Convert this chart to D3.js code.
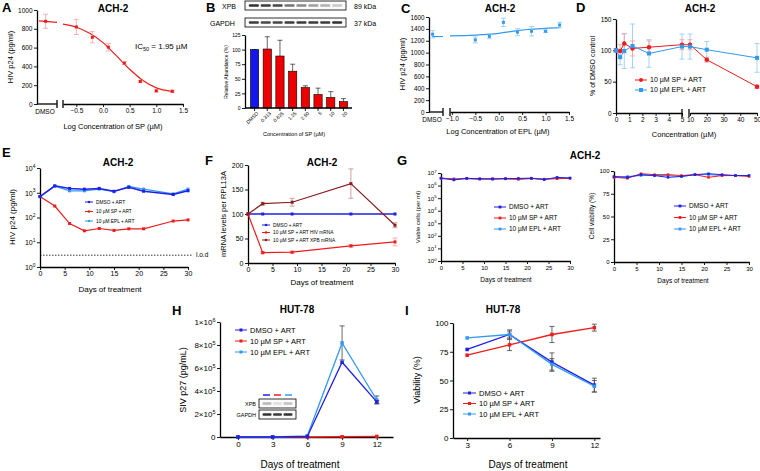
<!DOCTYPE html>
<html>
<head>
<meta charset="utf-8">
<script src="https://cdn.jsdelivr.net/npm/d3@7"></script>
<style>
  body { margin: 0; background: #fff; }
</style>
</head>
<body>
<div id="fig"></div>
<script>
// ---- data ----
// A: SP dose response (p24)
const aLogConc = [-0.5, -0.2, 0.1, 0.4, 0.7, 1.0, 1.3];
const aP24 = [820, 710, 605, 435, 240, 140, 135];
const aErr = [80, 60, 40, 15, 10, 12, 12];
const aDmso = [880];
const aDmsoErr = [75];
const aFitX = [-0.75, -0.5, -0.25, 0, 0.25, 0.5, 0.75, 1.0, 1.3];
const aFitY = [849, 816, 752, 653, 514, 370, 250, 172, 134];
const aDmsoFit = [884, 868];

// B: XPB western blot quantification
const bConc = ["DMSO", "0.313", "0.625", "1.25", "2.50", "5", "10", "20"];
const bAbund = [100, 101, 89, 63, 35, 23, 18, 11];
const bErr = [0, 21, 27, 12, 3, 11, 10, 5];
const bXpbBand = [0.9, 0.85, 0.8, 0.6, 0.5, 0.4, 0.32, 0.22];
const bGapdhBand = [0.85, 0.8, 0.8, 0.85, 0.85, 0.85, 0.85, 0.9];

// C: EPL dose response (p24)
const cLogConc = [-0.5, -0.2, 0.1, 0.4, 0.7, 1.0, 1.3];
const cP24 = [1215, 1275, 1510, 1345, 1360, 1360, 1465];
const cErr = [50, 40, 70, 60, 80, 20, 45];
const cDmso = [1310];
const cDmsoErr = [60];
const cFitX = [-1.04, -0.5, 0, 0.4, 0.7, 1.0, 1.3];
const cFitY = [1282, 1295, 1325, 1370, 1395, 1410, 1420];
const cDmsoFit = [1268, 1272];

// D: % of DMSO control
const dConc = [0, 0.313, 0.625, 1.25, 2.5, 5, 10, 20, 50];
const dSp = [100, 99, 111, 103, 105, 109, 109, 85, 42];
const dSpErr = [3, 10, 15, 12, 10, 8, 8, 4, 3];
const dEpl = [100, 89, 99, 107, 95, 106, 106, 101, 88];
const dEplErr = [3, 12, 28, 35, 22, 20, 20, 13, 23];

// E: p24 over time
const eDays = [0, 3, 6, 9, 12, 15, 18, 21, 27, 30];
const eDmso = [700, 1900, 1500, 1400, 1500, 1150, 1650, 1150, 850, 1200];
const eSp = [700, 290, 57, 29, 36, 30, 35, 35, 72, 80];
const eEpl = [700, 1850, 1200, 1200, 1400, 1100, 1800, 1400, 900, 1400];
const eLod = 3;

// F: mRNA levels
const fDays = [0, 3, 9, 21, 30];
const fDmso = [100, 100, 100, 100, 100];
const fHiv = [100, 21, 22, 35, 43];
const fHivErr = [0, 2, 2, 3, 8];
const fXpb = [100, 121, 124, 162, 77];
const fXpbErr = [0, 3, 8, 30, 5];

// G: viable cells and viability
const gDays = [0, 3, 6, 9, 12, 15, 18, 21, 24, 27, 30];
const gCellsDmso = [3.8e6, 2.8e6, 3.8e6, 3.5e6, 3.2e6, 3.6e6, 3.7e6, 3.9e6, 3.0e6, 4.5e6, 4.0e6];
const gCellsSp = [4.0e6, 3.3e6, 3.6e6, 3.2e6, 3.6e6, 3.4e6, 3.1e6, 3.6e6, 3.2e6, 3.5e6, 3.8e6];
const gCellsEpl = [3.6e6, 3.4e6, 3.5e6, 3.4e6, 3.4e6, 3.5e6, 3.5e6, 3.7e6, 3.3e6, 4.0e6, 3.9e6];
const gViaDmso = [94, 93, 96, 95, 93, 94, 96, 97, 96, 95, 95];
const gViaSp = [93, 92, 97, 96, 96, 95, 96, 93, 95, 95, 94];
const gViaEpl = [93, 94, 95, 95, 95, 94, 96, 96, 95, 95, 95];

// H: HUT-78 SIV p27
const hDays = [0, 3, 6, 9, 12];
const hDmso = [0, 0, 5000, 650000, 305000];
const hDmsoErr = [0, 0, 0, 0, 12000];
const hSp = [0, 0, 0, 2000, 5000];
const hEpl = [0, 0, 10000, 818000, 322000];
const hEplErr = [0, 0, 0, 148000, 35000];
const hXpbBand = [0.3, 0.12, 0.25];
const hGapdhBand = [0.9, 0.85, 0.9];

// I: HUT-78 viability
const iDays = [3, 6, 9, 12];
const iDmso = [77, 90, 66, 46];
const iDmsoErr = [0, 4, 8, 6];
const iSp = [72, 81, 90, 96];
const iSpErr = [0, 5, 7, 3];
const iEpl = [87, 90, 64, 45];
const iEplErr = [0, 3, 5, 5];

// ---- styling ----
const FONT = "'Liberation Sans', Arial, sans-serif";
const BLUE = "#1f1fe6";
const RED = "#ee1c1c";
const LBLUE = "#3399f0";
const DRED = "#8b1c1c";

const svg = d3.select("#fig").append("svg")
    .attr("width", 760).attr("height", 471)
    .style("font-family", FONT);

const defs = svg.append("defs");
defs.append("filter").attr("id", "blur")
    .append("feGaussianBlur").attr("stdDeviation", 0.5);

function label(x, y, s, size, o = {}) {
    const t = svg.append("text")
        .attr("x", x).attr("y", y)
        .attr("font-size", size)
        .attr("text-anchor", o.anchor || "middle")
        .attr("fill", "#000")
        .text(s);
    if (o.bold) t.attr("font-weight", "bold");
    if (o.rot) t.attr("transform", `rotate(-90,${x},${y})`);
    return t;
}

function styleAxis(g, fs) {
    g.attr("font-family", FONT).attr("font-size", fs);
    g.select(".domain").attr("stroke", "#000").attr("stroke-width", 1.3);
    g.selectAll(".tick line").attr("stroke", "#000").attr("stroke-width", 0.9);
    g.selectAll(".tick text").attr("fill", "#000");
    return g;
}

function axisLeft(scale, x, vals, fmt, fs) {
    const g = svg.append("g").attr("transform", `translate(${x},0)`)
        .call(d3.axisLeft(scale).tickValues(vals).tickFormat(fmt)
            .tickSize(3).tickSizeOuter(0).tickPadding(1.5));
    return styleAxis(g, fs);
}

function axisBottom(scale, y, vals, fmt, fs) {
    const g = svg.append("g").attr("transform", `translate(0,${y})`)
        .call(d3.axisBottom(scale).tickValues(vals).tickFormat(fmt)
            .tickSize(3).tickSizeOuter(0).tickPadding(1.5));
    return styleAxis(g, fs);
}

// powers of ten as 10 + superscript
function supTicks(g, fs) {
    g.selectAll(".tick text").each(function(d) {
        const e = Math.round(Math.log10(d));
        const t = d3.select(this).text("");
        t.append("tspan").text("10");
        t.append("tspan").attr("dy", -fs * 0.45).attr("font-size", fs * 0.7).text(e);
    });
}

function breakMarks(xs, y) {
    xs.forEach(x => svg.append("line")
        .attr("x1", x).attr("x2", x).attr("y1", y - 4).attr("y2", y + 4)
        .attr("stroke", "#000").attr("stroke-width", 1.3));
}

function errBars(xs, ys, errs, xf, yf, color, cap = 2, lw = 0.8) {
    const g = svg.append("g").attr("stroke", color).attr("stroke-width", lw);
    xs.forEach((x, i) => {
        if (!errs[i]) return;
        const cx = xf(x), y1 = yf(ys[i] + errs[i]), y2 = yf(ys[i] - errs[i]);
        g.append("line").attr("x1", cx).attr("x2", cx).attr("y1", y1).attr("y2", y2);
        g.append("line").attr("x1", cx - cap).attr("x2", cx + cap).attr("y1", y1).attr("y2", y1);
        g.append("line").attr("x1", cx - cap).attr("x2", cx + cap).attr("y1", y2).attr("y2", y2);
    });
}

function marker(g, cx, cy, color, ms, shape) {
    if (shape === "circle") {
        g.append("circle").attr("cx", cx).attr("cy", cy).attr("r", ms / 2).attr("fill", color);
    } else {
        g.append("rect").attr("x", cx - ms / 2).attr("y", cy - ms / 2)
            .attr("width", ms).attr("height", ms).attr("fill", color);
    }
}

function series(xs, ys, xf, yf, color, o = {}) {
    const pts = xs.map((x, i) => [xf(x), yf(ys[i])]);
    if (o.line !== false) {
        svg.append("path").attr("d", d3.line()(pts))
            .attr("fill", "none").attr("stroke", color).attr("stroke-width", o.lw || 1);
    }
    const g = svg.append("g");
    pts.forEach(p => marker(g, p[0], p[1], color, o.ms || 3, o.shape));
}

function legend(x, y, items, fs, rowH, len, o = {}) {
    items.forEach((it, i) => {
        const yy = y + i * rowH;
        svg.append("line").attr("x1", x).attr("x2", x + len).attr("y1", yy).attr("y2", yy)
            .attr("stroke", it.color).attr("stroke-width", o.lw || 1);
        marker(svg, x + len / 2, yy, it.color, o.ms || 3, it.shape);
        label(x + len + 3, yy + fs * 0.35, it.text, fs, { anchor: "start" });
    });
}

function blot(x0, y0, w, h, intens) {
    svg.append("rect").attr("x", x0).attr("y", y0).attr("width", w).attr("height", h)
        .attr("fill", "#fafafa").attr("stroke", "#000").attr("stroke-width", 0.8);
    const bx = d3.scaleBand().domain(d3.range(intens.length)).range([x0 + 2, x0 + w - 2]).padding(0.15);
    svg.append("g").selectAll("rect").data(intens).join("rect")
        .attr("x", (d, i) => bx(i)).attr("y", y0 + h / 2 - 1.2)
        .attr("width", bx.bandwidth()).attr("height", 2.4).attr("rx", 1)
        .attr("fill", "#1a1a1a").attr("opacity", d => d)
        .attr("filter", "url(#blur)");
}

// ================= Panel A =================
label(2, 12, "A", 13, { anchor: "start", bold: true });
label(113, 12, "ACH-2", 10, { bold: true });
const yA = d3.scaleLinear().domain([0, 1000]).range([104, 10]);
const xA = d3.scaleLinear().domain([-0.75, 1.5]).range([63, 183]);
const xAd = d3.scaleLinear().domain([0, 1]).range([38, 57]);
axisLeft(yA, 37, d3.range(0, 1001, 200), d3.format("d"), 6.5);
axisBottom(xA, 104, [-0.5, 0, 0.5, 1.0, 1.5], d3.format(".1f"), 6.5);
svg.append("line").attr("x1", 37).attr("x2", 57).attr("y1", 104).attr("y2", 104)
    .attr("stroke", "#000").attr("stroke-width", 1.3);
breakMarks([57, 63], 104);
label(45, 114, "DMSO", 6.5);
label(13, 57, "HIV p24 (pg/ml)", 7.5, { rot: true });
label(113, 129, "Log Concentration of SP (\u00b5M)", 7.5);
svg.append("path").attr("d", d3.line().curve(d3.curveMonotoneX)(aFitX.map((x, i) => [xA(x), yA(aFitY[i])])))
    .attr("fill", "none").attr("stroke", RED).attr("stroke-width", 1.2);
svg.append("path").attr("d", d3.line()([[xAd(0.05), yA(aDmsoFit[0])], [xAd(1), yA(aDmsoFit[1])]]))
    .attr("fill", "none").attr("stroke", RED).attr("stroke-width", 1.2);
errBars(aLogConc, aP24, aErr, xA, yA, "#f4a0a0", 2.5);
errBars([0.4], aDmso, aDmsoErr, xAd, yA, "#f4a0a0", 2.5);
series(aLogConc, aP24, xA, yA, RED, { line: false, ms: 3 });
series([0.4], aDmso, xAd, yA, RED, { line: false, ms: 3 });
const ic = label(135, 49, "", 8, { anchor: "start" });
ic.append("tspan").text("IC");
ic.append("tspan").attr("dy", 2).attr("font-size", 5.5).text("50");
ic.append("tspan").attr("dy", -2).text(" = 1.95 \u00b5M");

// ================= Panel B =================
label(206, 12, "B", 13, { anchor: "start", bold: true });
label(222, 9, "XPB", 7, { anchor: "start" });
label(210, 26, "GAPDH", 7, { anchor: "start" });
label(354, 9, "89 kDa", 7, { anchor: "start" });
label(354, 26, "37 kDa", 7, { anchor: "start" });
blot(245, 1, 101, 9, bXpbBand);
blot(245, 18, 101, 9, bGapdhBand);
const yB = d3.scaleLinear().domain([0, 125]).range([108, 35]);
const xB = d3.scaleBand().domain(bConc).range([246, 352]).padding(0.35);
svg.append("g").selectAll("line").data(bConc).join("line")
    .attr("x1", d => xB(d) + xB.bandwidth() / 2).attr("x2", d => xB(d) + xB.bandwidth() / 2)
    .attr("y1", (d, i) => yB(bAbund[i])).attr("y2", (d, i) => yB(bAbund[i] + bErr[i]))
    .attr("stroke", "#000").attr("stroke-width", 0.6);
svg.append("g").selectAll("line").data(bConc).join("line")
    .attr("x1", d => xB(d) + xB.bandwidth() / 2 - 2.5).attr("x2", d => xB(d) + xB.bandwidth() / 2 + 2.5)
    .attr("y1", (d, i) => yB(bAbund[i] + bErr[i])).attr("y2", (d, i) => yB(bAbund[i] + bErr[i]))
    .attr("stroke", "#000").attr("stroke-width", 0.6);
svg.append("g").selectAll("rect").data(bConc).join("rect")
    .attr("x", d => xB(d)).attr("width", xB.bandwidth())
    .attr("y", (d, i) => yB(bAbund[i])).attr("height", (d, i) => yB(0) - yB(bAbund[i]))
    .attr("fill", (d, i) => i === 0 ? "#1515ee" : "#ee0000")
    .attr("stroke", "#000").attr("stroke-width", 0.6);
axisLeft(yB, 245, d3.range(0, 126, 25), d3.format("d"), 5);
const gxB = axisBottom(xB, 108, bConc, d => d, 5);
gxB.select(".domain").attr("d", "M245,0H352");
gxB.selectAll(".tick text").attr("transform", "rotate(-45)")
    .attr("text-anchor", "end").attr("dx", "-0.2em").attr("dy", "0.5em");
label(228, 72, "Relative Abundance (%)", 5, { rot: true });
label(294, 136, "Concentration of SP (\u00b5M)", 5.5);

// ================= Panel C =================
label(401, 13, "C", 13, { anchor: "start", bold: true });
label(500, 12, "ACH-2", 10, { bold: true });
const yC = d3.scaleLinear().domain([0, 1600]).range([112, 17]);
const xC = d3.scaleLinear().domain([-1.04, 1.5]).range([450, 569]);
const xCd = d3.scaleLinear().domain([0, 1]).range([430, 443]);
axisLeft(yC, 429, d3.range(0, 1601, 200), d3.format("d"), 6.3);
axisBottom(xC, 112, [-1.0, -0.5, 0, 0.5, 1.0, 1.5], d3.format(".1f"), 6.5);
svg.append("line").attr("x1", 429).attr("x2", 443).attr("y1", 112).attr("y2", 112)
    .attr("stroke", "#000").attr("stroke-width", 1.3);
breakMarks([443, 450], 112);
label(432, 122, "DMSO", 6.5);
label(405, 64, "HIV p24 (pg/ml)", 7.5, { rot: true });
label(498, 134, "Log Concentration of EPL (\u00b5M)", 7.5);
svg.append("path").attr("d", d3.line().curve(d3.curveMonotoneX)(cFitX.map((x, i) => [xC(x), yC(cFitY[i])])))
    .attr("fill", "none").attr("stroke", LBLUE).attr("stroke-width", 1.2);
svg.append("path").attr("d", d3.line()([[xCd(0.15), yC(cDmsoFit[0])], [xCd(1), yC(cDmsoFit[1])]]))
    .attr("fill", "none").attr("stroke", LBLUE).attr("stroke-width", 1.2);
errBars(cLogConc, cP24, cErr, xC, yC, "#90c6f5", 2.5);
errBars([0.2], cDmso, cDmsoErr, xCd, yC, "#90c6f5", 2.5);
series(cLogConc, cP24, xC, yC, LBLUE, { line: false, ms: 3 });
series([0.2], cDmso, xCd, yC, LBLUE, { line: false, ms: 3 });

// ================= Panel D =================
label(576, 12, "D", 13, { anchor: "start", bold: true });
label(700, 12, "ACH-2", 10, { bold: true });
const yD = d3.scaleLinear().domain([0, 150]).range([113, 19]);
const xD1 = d3.scaleLinear().domain([0, 5]).range([616, 682]);
const xD2 = d3.scaleLinear().domain([10, 50]).range([690, 757]);
const xD = c => c <= 5 ? xD1(c) : xD2(c);
axisLeft(yD, 616, [0, 50, 100, 150], d3.format("d"), 6.5);
axisBottom(xD1, 113, d3.range(0, 6), d3.format("d"), 6.5);
axisBottom(xD2, 113, [10, 20, 30, 40, 50], d3.format("d"), 6.5);
breakMarks([682, 689], 113);
label(595, 66, "% of DMSO control", 7, { rot: true });
label(684, 137, "Concentration (\u00b5M)", 7.5);
errBars(dConc, dEpl, dEplErr, xD, yD, "#90c6f5", 2.5);
errBars(dConc, dSp, dSpErr, xD, yD, "#f4a0a0", 2.5);
series(dConc, dSp, xD, yD, RED, { ms: 4.5, shape: "circle" });
series(dConc, dEpl, xD, yD, LBLUE, { ms: 4 });
legend(635, 80, [
    { text: "10 \u00b5M SP + ART", color: RED, shape: "circle" },
    { text: "10 \u00b5M EPL + ART", color: LBLUE }
], 7, 10, 12, { ms: 4 });

// ================= Panel E =================
label(2, 157, "E", 13, { anchor: "start", bold: true });
label(118, 166, "ACH-2", 10, { bold: true });
const yE = d3.scaleLog().domain([1, 1e4]).range([267, 168]);
const xE = d3.scaleLinear().domain([0, 30]).range([40, 188]);
supTicks(axisLeft(yE, 40, [1, 10, 100, 1000, 10000], d => d, 7), 7);
axisBottom(xE, 267, d3.range(0, 31, 5), d3.format("d"), 7);
svg.append("line").attr("x1", xE(0)).attr("x2", 193).attr("y1", yE(eLod)).attr("y2", yE(eLod))
    .attr("stroke", "#000").attr("stroke-width", 0.8).attr("stroke-dasharray", "1.5,1.5");
label(196, yE(eLod) + 2, "l.o.d", 6.5, { anchor: "start" });
label(15, 217, "HIV p24 (pg/ml)", 8, { rot: true });
label(110, 292, "Days of treatment", 8);
series(eDays, eSp, xE, yE, RED, { lw: 1.2, ms: 3 });
series(eDays, eEpl, xE, yE, LBLUE, { lw: 1.2, ms: 3 });
series(eDays, eDmso, xE, yE, BLUE, { lw: 1.5, ms: 3 });
legend(85, 202, [
    { text: "DMSO + ART", color: BLUE },
    { text: "10 \u00b5M SP + ART", color: RED },
    { text: "10 \u00b5M EPL + ART", color: LBLUE }
], 4.8, 9.5, 8, { ms: 2.2 });

// ================= Panel F =================
label(205, 165, "F", 13, { anchor: "start", bold: true });
label(322, 166, "ACH-2", 10, { bold: true });
const yF = d3.scaleLinear().domain([0, 200]).range([263, 165]);
const xF = d3.scaleLinear().domain([0, 30]).range([248, 395]);
axisLeft(yF, 248, d3.range(0, 201, 50), d3.format("d"), 7);
axisBottom(xF, 263, d3.range(0, 31, 5), d3.format("d"), 7);
label(226, 214, "mRNA levels per RPL13A", 7.5, { rot: true });
label(322, 285, "Days of treatment", 8);
errBars(fDays, fHiv, fHivErr, xF, yF, "#f4a0a0", 2.5);
errBars(fDays, fXpb, fXpbErr, xF, yF, "#c58a8a", 2.5);
series(fDays, fDmso, xF, yF, BLUE, { lw: 1.5, ms: 3 });
series(fDays, fHiv, xF, yF, RED, { lw: 1.2, ms: 3 });
series(fDays, fXpb, xF, yF, DRED, { lw: 1.2, ms: 3 });
legend(262, 225, [
    { text: "DMSO + ART", color: BLUE },
    { text: "10 \u00b5M SP + ART HIV mRNA", color: RED },
    { text: "10 \u00b5M SP + ART XPB mRNA", color: DRED }
], 4.8, 7.5, 8, { ms: 2.2 });

// ================= Panel G =================
label(397, 165, "G", 13, { anchor: "start", bold: true });
label(585, 159, "ACH-2", 10, { bold: true });
const yG = d3.scaleLog().domain([1, 1e7]).range([261, 173]);
const xG = d3.scaleLinear().domain([0, 30]).range([441, 570]);
supTicks(axisLeft(yG, 441, d3.range(0, 8).map(e => Math.pow(10, e)), d => d, 6), 6);
axisBottom(xG, 261, d3.range(0, 31, 5), d3.format("d"), 6);
label(420, 217, "Viable cells (per ml)", 6, { rot: true });
label(506, 282, "Days of treatment", 6.5);
series(gDays, gCellsEpl, xG, yG, LBLUE, { lw: 1, ms: 2.5 });
series(gDays, gCellsSp, xG, yG, RED, { lw: 1, ms: 2.5 });
series(gDays, gCellsDmso, xG, yG, BLUE, { lw: 1, ms: 2.5 });
legend(494, 207, [
    { text: "DMSO + ART", color: BLUE },
    { text: "10 \u00b5M SP + ART", color: RED },
    { text: "10 \u00b5M EPL + ART", color: LBLUE }
], 6.5, 11, 12, { ms: 2.8 });

const yGr = d3.scaleLinear().domain([0, 100]).range([262, 171]);
const xGr = d3.scaleLinear().domain([0, 30]).range([614, 749]);
axisLeft(yGr, 614, [0, 25, 50, 75, 100], d3.format("d"), 6);
axisBottom(xGr, 262, d3.range(0, 31, 5), d3.format("d"), 6);
label(594, 216, "Cell viability (%)", 6.5, { rot: true });
label(683, 283, "Days of treatment", 6.5);
series(gDays, gViaEpl, xGr, yGr, LBLUE, { lw: 1, ms: 2.5 });
series(gDays, gViaSp, xGr, yGr, RED, { lw: 1, ms: 2.5 });
series(gDays, gViaDmso, xGr, yGr, BLUE, { lw: 1, ms: 2.5 });
legend(674, 206, [
    { text: "DMSO + ART", color: BLUE },
    { text: "10 \u00b5M SP + ART", color: RED },
    { text: "10 \u00b5M EPL + ART", color: LBLUE }
], 6.5, 11.5, 12, { ms: 2.8 });

// ================= Panel H =================
label(172, 315, "H", 13, { anchor: "start", bold: true });
label(297, 313, "HUT-78", 10, { bold: true });
const yH = d3.scaleLinear().domain([0, 1e6]).range([437, 322]);
const xH = d3.scaleLinear().domain([-1.55, 13.4]).range([220, 393]);
const gyH = axisLeft(yH, 220, d3.range(0, 1e6 + 1, 2e5), d => d, 8);
gyH.selectAll(".tick text").each(function(d) {
    const t = d3.select(this).text("");
    if (d === 0) { t.text("0"); return; }
    const e = Math.floor(Math.log10(d) + 1e-9);
    t.append("tspan").text(Math.round(d / Math.pow(10, e)) + "\u00d710");
    t.append("tspan").attr("dy", -3.5).attr("font-size", 5.5).text(e);
});
axisBottom(xH, 437, hDays, d3.format("d"), 8);
label(186, 380, "SIV p27 (pg/mL)", 9, { rot: true });
label(300, 468, "Days of treatment", 10);
errBars(hDays, hEpl, hEplErr, xH, yH, "#444", 2.5);
errBars(hDays, hDmso, hDmsoErr, xH, yH, "#444", 2.5);
series(hDays, hSp, xH, yH, RED, { lw: 1.3, ms: 3.5 });
series(hDays, hEpl, xH, yH, LBLUE, { lw: 1.3, ms: 3.5 });
series(hDays, hDmso, xH, yH, BLUE, { lw: 1.3, ms: 3.5 });
legend(235, 330, [
    { text: "DMSO + ART", color: BLUE },
    { text: "10 \u00b5M SP + ART", color: RED },
    { text: "10 \u00b5M EPL + ART", color: LBLUE }
], 7.5, 11, 12, { ms: 3 });
// inset blot
[BLUE, RED, LBLUE].forEach((c, i) => svg.append("line")
    .attr("x1", 263 + i * 11).attr("x2", 270 + i * 11).attr("y1", 395).attr("y2", 395)
    .attr("stroke", c).attr("stroke-width", 1.5));
label(256, 406, "XPB", 5.5, { anchor: "end" });
label(256, 417, "GAPDH", 5.5, { anchor: "end" });
blot(259, 399, 37, 9, hXpbBand);
blot(259, 410, 37, 9, hGapdhBand);

// ================= Panel I =================
label(405, 315, "I", 13, { anchor: "start", bold: true });
label(503, 313, "HUT-78", 10, { bold: true });
const yI = d3.scaleLinear().domain([0, 100]).range([438, 323]);
const xI = d3.scaleLinear().domain([2, 12.4]).range([453, 600]);
axisLeft(yI, 453, [0, 25, 50, 75, 100], d3.format("d"), 8);
axisBottom(xI, 438, iDays, d3.format("d"), 8);
label(420, 380, "Viability (%)", 9, { rot: true });
label(528, 468, "Days of treatment", 10);
errBars(iDays, iSp, iSpErr, xI, yI, "#444", 2.5);
errBars(iDays, iDmso, iDmsoErr, xI, yI, "#444", 2.5);
errBars(iDays, iEpl, iEplErr, xI, yI, "#444", 2.5);
series(iDays, iSp, xI, yI, RED, { lw: 1.3, ms: 3.5 });
series(iDays, iDmso, xI, yI, BLUE, { lw: 1.3, ms: 3.5 });
series(iDays, iEpl, xI, yI, LBLUE, { lw: 1.3, ms: 3.5 });
legend(463, 393, [
    { text: "DMSO + ART", color: BLUE },
    { text: "10 \u00b5M SP + ART", color: RED },
    { text: "10 \u00b5M EPL + ART", color: LBLUE }
], 7.5, 10.5, 13, { ms: 3 });
</script>
</body>
</html>
